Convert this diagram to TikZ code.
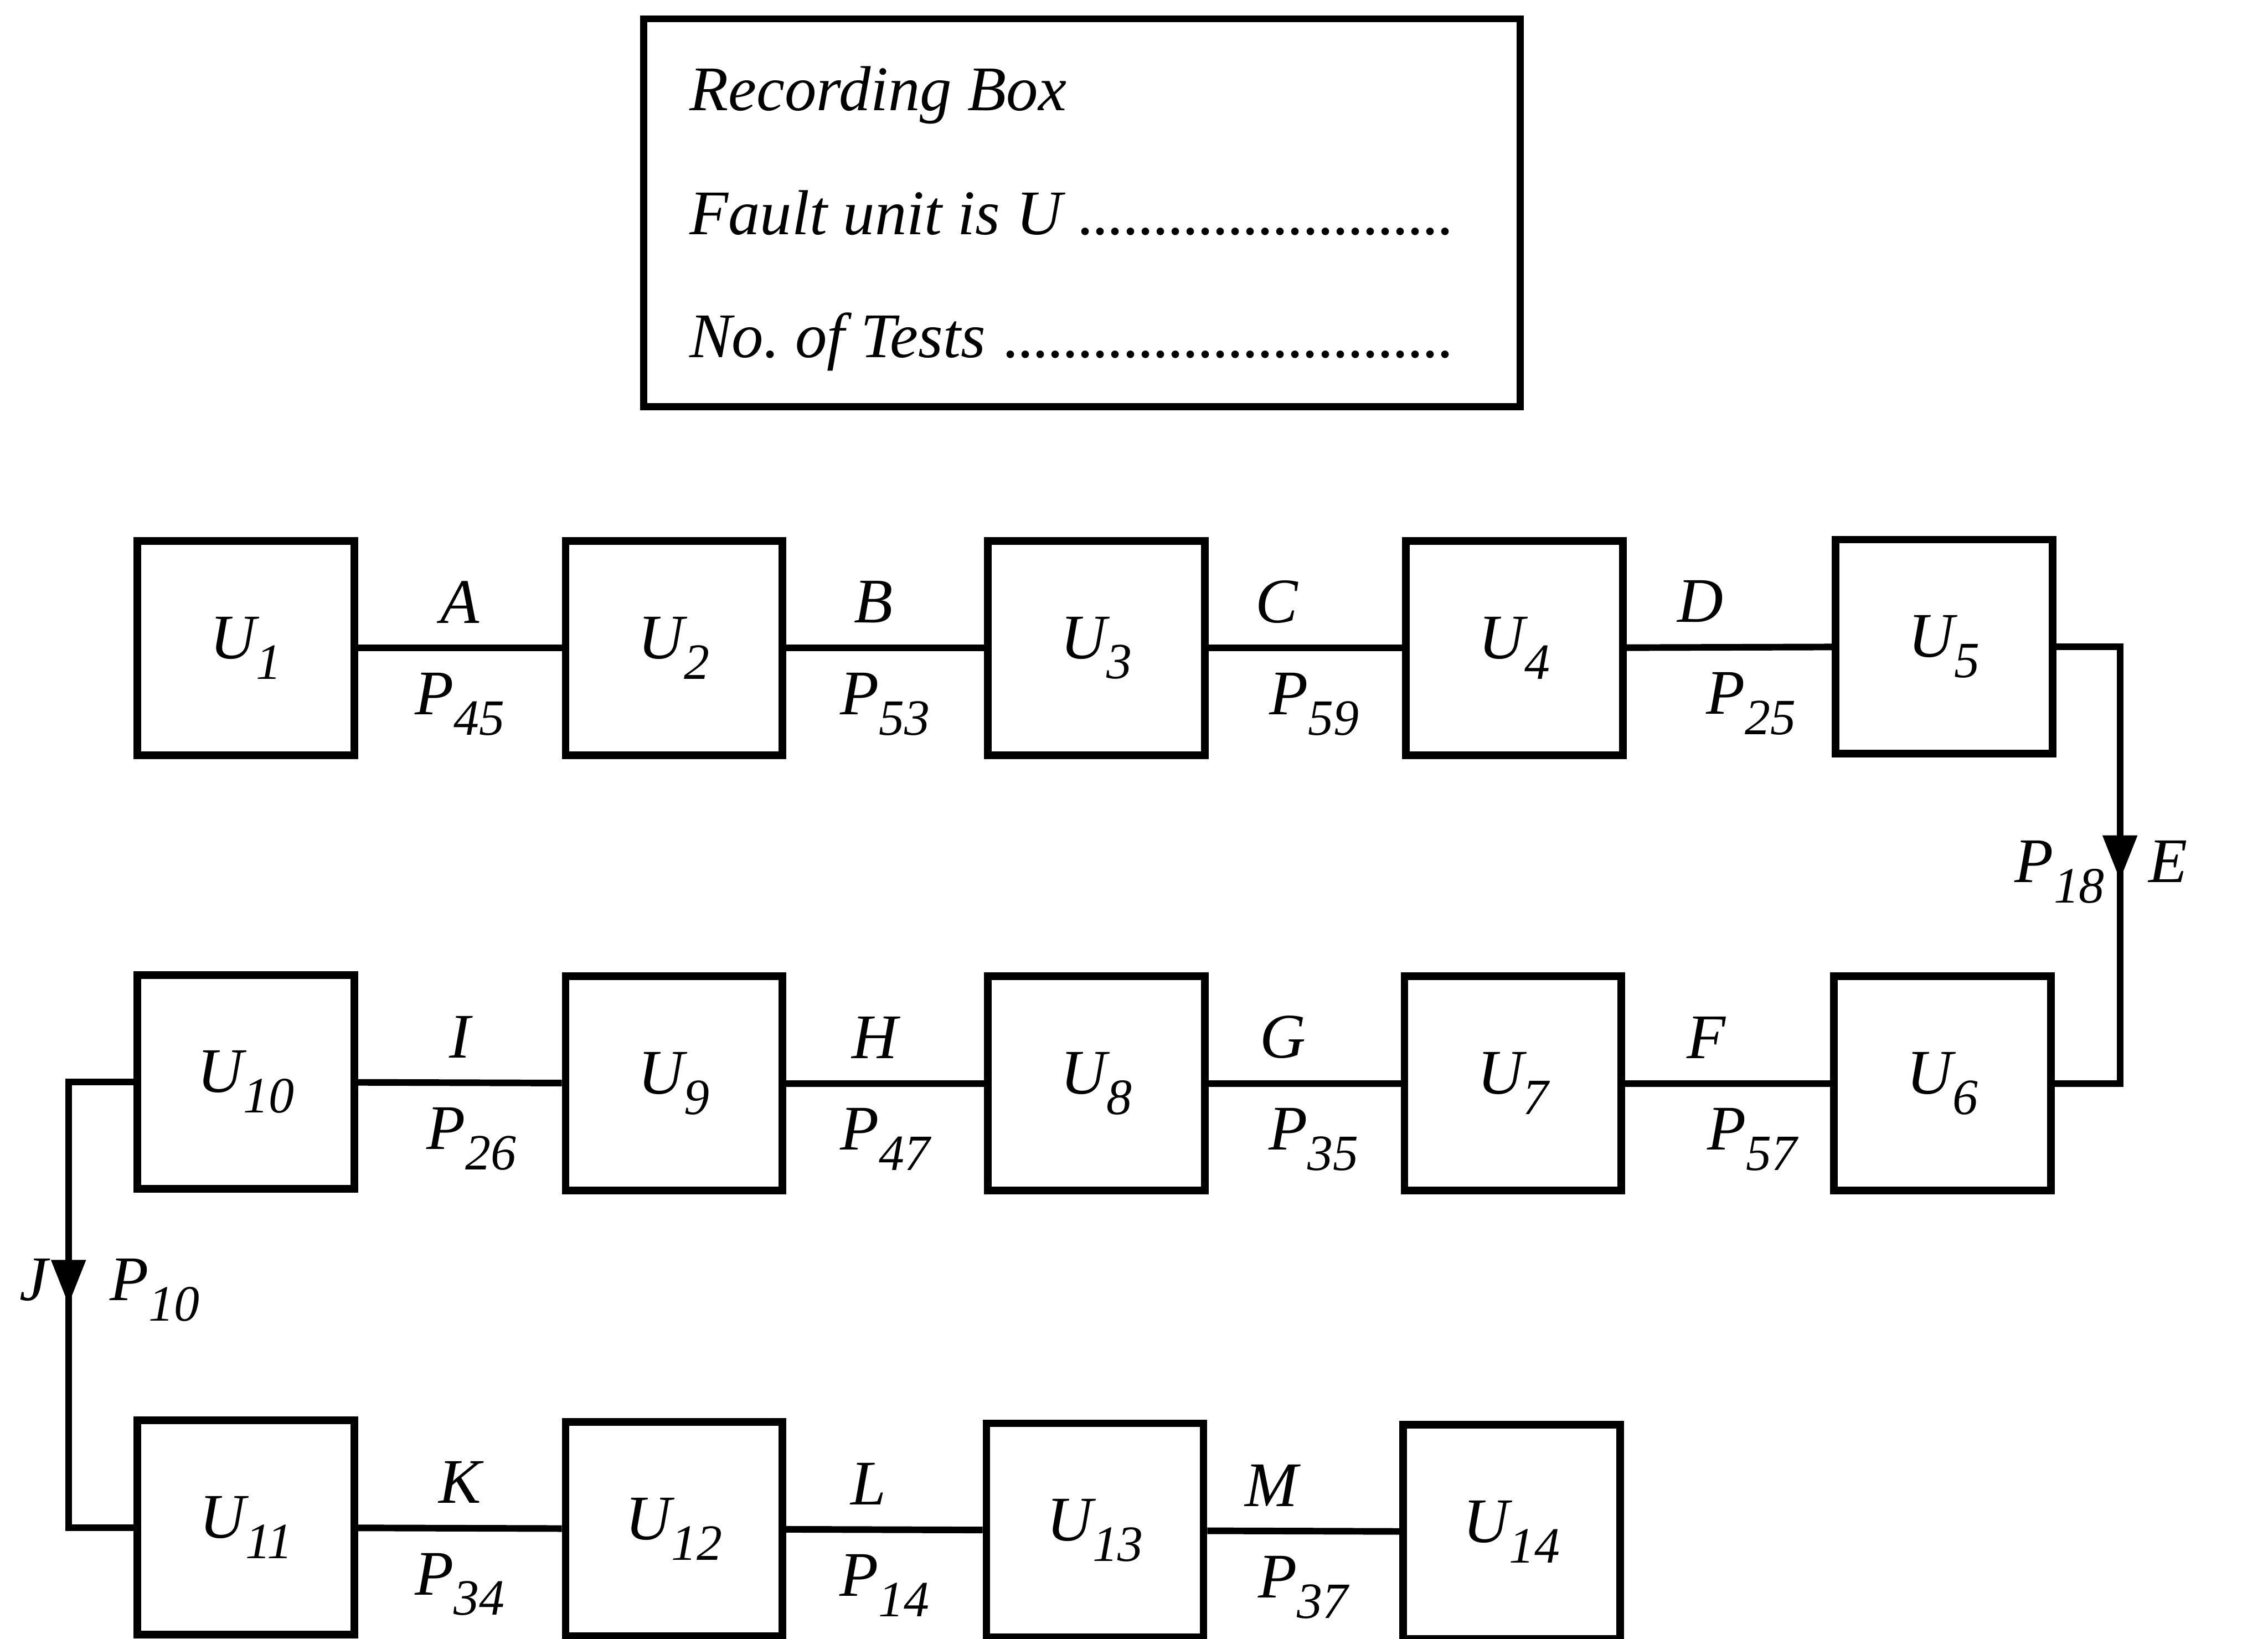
\documentclass[tikz,border=0pt]{standalone}
\usepackage{fontspec}
\setmainfont{Liberation Serif}
\usetikzlibrary{arrows.meta,decorations.markings}

\newcommand{\subl}[2]{#1\raisebox{-4pt}{\fontsize{10}{10}\selectfont #2}}
\newcommand{\dotline}[2]{\makebox[#1][l]{#2 \leaders\hbox to 2.95pt{\hss.\hss}\hfill}}

\tikzset{
  unitbox/.style={draw, line width=1.5pt, minimum width=1.5cm, minimum height=1.48cm, inner sep=0pt},
  wire/.style={line width=1.3pt},
  lbl/.style={inner sep=0.15cm},
  txt/.style={inner sep=0pt, anchor=base west},
  arrowmid/.style={postaction={decorate}, decoration={markings,
    mark=at position 0.5 with {\arrow[xshift=#1]{Triangle[width=0.23cm,length=0.31cm]}}}},
  arrowmid/.default=0pt
}

\begin{document}
\begin{tikzpicture}[font=\fontsize{12.5}{15}\selectfont\itshape]
    \useasboundingbox (0,0) rectangle (15.68,-11.33);

    % recording box
    \node[draw, line width=1.4pt, minimum width=6.06cm, minimum height=2.68cm] (rec) at (7.48,-1.47) {};
    \node[txt] (rec1) at (4.76,-0.765) {Recording Box};
    \node[txt] (rec2) at (4.76,-1.62) {\dotline{5.32cm}{Fault unit is U}};
    \node[txt] (rec3) at (4.76,-2.47) {\dotline{5.30cm}{No.\ of Tests}};

    % units
    \node[unitbox] (u1) at (1.70,-4.48) {\subl{U}{1}};
    \node[unitbox] (u2) at (4.66,-4.48) {\subl{U}{2}};
    \node[unitbox] (u3) at (7.58,-4.48) {\subl{U}{3}};
    \node[unitbox] (u4) at (10.47,-4.48) {\subl{U}{4}};
    \node[unitbox] (u5) at (13.44,-4.47) {\subl{U}{5}};
    \node[unitbox] (u6) at (13.43,-7.49) {\subl{U}{6}};
    \node[unitbox] (u7) at (10.46,-7.49) {\subl{U}{7}};
    \node[unitbox] (u8) at (7.58,-7.49) {\subl{U}{8}};
    \node[unitbox] (u9) at (4.66,-7.49) {\subl{U}{9}};
    \node[unitbox] (u10) at (1.70,-7.48) {\subl{U}{10}};
    \node[unitbox] (u11) at (1.70,-10.56) {\subl{U}{11}};
    \node[unitbox] (u12) at (4.66,-10.57) {\subl{U}{12}};
    \node[unitbox] (u13) at (7.57,-10.58) {\subl{U}{13}};
    \node[unitbox] (u14) at (10.45,-10.59) {\subl{U}{14}};

    % connections
    \draw[wire] (u1) -- node[lbl, above] (lA) {A} node[lbl, below] (pA) {\subl{P}{45}} (u2);
    \draw[wire] (u2) -- node[lbl, above, xshift=-0.08cm] (lB) {B} node[lbl, below] (pB) {\subl{P}{53}} (u3);
    \draw[wire] (u3) -- node[lbl, above, xshift=-0.2cm] (lC) {C} node[lbl, below, xshift=0.06cm] (pC) {\subl{P}{59}} (u4);
    \draw[wire] (u4) -- node[lbl, above, xshift=-0.2cm] (lD) {D} node[lbl, below, xshift=0.15cm] (pD) {\subl{P}{25}} (u5);
    \draw[wire, arrowmid=0.1cm] (u5.east) -- ++(0.44,0) |- (u6.east);
    \draw[wire] (u6) -- node[lbl, above, xshift=-0.15cm] (lF) {F} node[lbl, below, xshift=0.17cm] (pF) {\subl{P}{57}} (u7);
    \draw[wire] (u7) -- node[lbl, above, xshift=-0.15cm] (lG) {G} node[lbl, below, xshift=0.06cm] (pG) {\subl{P}{35}} (u8);
    \draw[wire] (u8) -- node[lbl, above, xshift=-0.07cm] (lH) {H} node[lbl, below] (pH) {\subl{P}{47}} (u9);
    \draw[wire] (u9) -- node[lbl, above] (lI) {I} node[lbl, below, xshift=0.08cm] (pI) {\subl{P}{26}} (u10);
    \draw[wire, arrowmid] (u10.west) -- ++(-0.45,0) |- (u11.west);
    \draw[wire] (u11) -- node[lbl, above] (lK) {K} node[lbl, below] (pK) {\subl{P}{34}} (u12);
    \draw[wire] (u12) -- node[lbl, above, xshift=-0.11cm] (lL) {L} node[lbl, below] (pL) {\subl{P}{14}} (u13);
    \draw[wire] (u13) -- node[lbl, above, xshift=-0.22cm] (lM) {M} node[lbl, below] (pM) {\subl{P}{37}} (u14);

    % labels on the turns
    \node[anchor=base] (pE) at (14.24,-6.10) {\subl{P}{18}};
    \node[anchor=base] (lE) at (14.99,-6.10) {E};
    \node[anchor=base] (lJ) at (0.235,-8.99) {J};
    \node[anchor=base] (pJ) at (1.07,-8.99) {\subl{P}{10}};
\end{tikzpicture}
\end{document}
